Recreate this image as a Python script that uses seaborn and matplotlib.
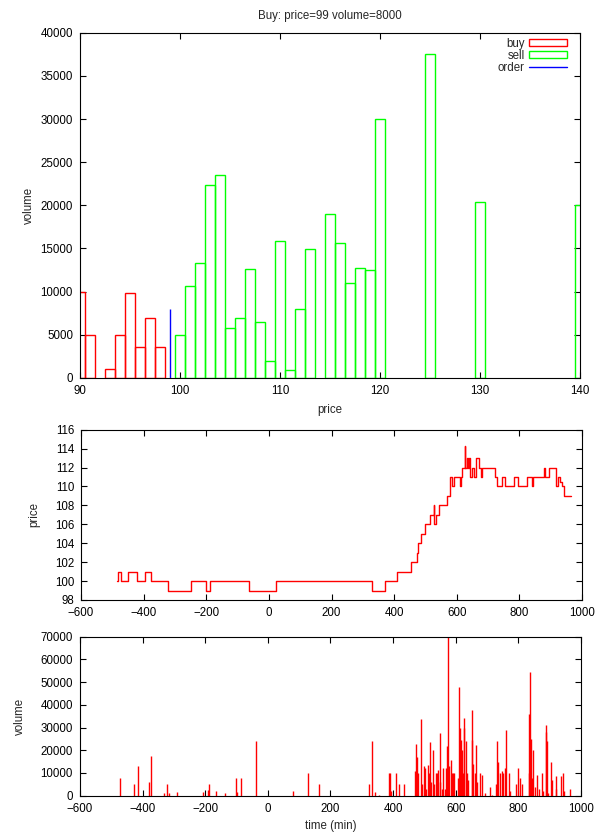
import matplotlib
matplotlib.use("Agg")
import matplotlib.pyplot as plt
from matplotlib.patches import Patch
from matplotlib.lines import Line2D
import seaborn as sns

# order book snapshot
buy_price = [90, 91, 93, 94, 95, 96, 97, 98]
buy_volume = [10000, 5000, 1000, 5000, 9900, 3600, 6900, 3600]
sell_price = [100, 101, 102, 103, 104, 105, 106, 107, 108, 109, 110, 111, 112, 113,
              115, 116, 117, 118, 119, 120, 125, 130, 140]
sell_volume = [5000, 10600, 13300, 22400, 23500, 5800, 7000, 12600, 6450, 2000, 15900,
               900, 8000, 14900, 19000, 15600, 11000, 12700, 12500, 30000, 37500, 20400, 20000]
order_price = 99
order_volume = 8000

# price history (minutes)
price_time = [-484, -483, -472, -449, -421, -396, -377, -322, -250, -200, -187, -62, 22,
              329, 371, 410, 453, 474, 477, 487, 498, 515, 526, 528, 533, 543, 570, 577,
              584, 590, 610, 613, 616, 625, 627, 632, 637, 640, 643, 648, 654, 660, 670,
              676, 681, 722, 728, 745, 753, 783, 797, 823, 839, 842, 880, 883, 896, 916,
              923, 931, 937, 942, 965]
price_level = [100, 101, 100, 101, 100, 101, 100, 99, 100, 99, 100, 99, 100,
               99, 100, 101, 102, 103, 104, 105, 106, 107, 108, 106, 107, 108, 109, 111,
               110, 111, 110, 111, 112, 114.3, 112, 113, 112, 113, 111, 112, 111, 113, 112,
               111, 112, 111, 110, 111, 110, 111, 110, 111, 110, 111, 112, 111, 112, 110,
               111, 110.5, 110, 109, 109]

# traded volume (minutes)
trade_time = [-472, -426, -416, -379, -374, -332, -323, -315, -291, -208, -190, -187,
              -167, -136, -102, -97, -87, -37, 79, 129, 162,
              322, 333, 343, 354, 386, 389, 392, 410, 419, 434,
              470, 474, 477, 479, 490, 493, 498, 502, 506, 511, 515, 518, 522, 527, 531,
              536, 540, 543, 549, 551, 556, 560, 565, 570, 573, 576, 580, 584, 588, 591,
              596, 607, 610, 614, 617, 620, 623, 626, 628, 632, 635, 638, 651, 653, 656,
              663, 666, 669, 678, 685, 692, 711, 717, 730, 733, 736, 742, 749, 752, 756,
              759, 770, 774, 793, 800, 806, 812, 833, 835, 837, 840, 844, 846, 852, 859,
              866, 875, 879, 887, 889, 892, 896, 905, 908, 919, 921, 936, 942, 945, 965]
trade_volume = [8000, 5000, 13000, 6000, 17500, 1000, 5000, 1000, 1500, 1500, 2500, 5000,
                2000, 1000, 8000, 1500, 8000, 24000, 2000, 10000, 5000,
                5000, 24000, 1500, 500, 10000, 10000, 2000, 10000, 5000, 5000,
                11000, 22600, 17000, 10000, 33800, 5000, 12900, 12000, 3000, 13500, 10000,
                23500, 6000, 20000, 5000, 10000, 10000, 11500, 6000, 27700, 3000, 12000,
                3000, 12000, 22000, 70000, 13000, 15600, 10000, 10000, 10000, 8000, 47800,
                30000, 24500, 20000, 10000, 30000, 34000, 24000, 10000, 7000, 24600, 37600,
                14000, 10000, 22300, 6000, 10000, 9000, 1000, 4000, 500, 5000, 24000, 14700,
                10000, 11000, 10000, 12000, 29000, 10000, 2000, 5000, 12000, 8000, 5000,
                36000, 10000, 54400, 25000, 8000, 20000, 4000, 9000, 3000, 10000, 2000,
                31000, 28000, 24000, 1000, 15000, 7000, 8500, 3000, 8500, 10000, 2000, 3000]

FS = 8.3

sns.set_style("ticks")
plt.rcParams["font.family"] = ["Liberation Sans", "DejaVu Sans"]
plt.rcParams.update({
    "font.size": FS,
    "axes.linewidth": 0.8,
    "axes.edgecolor": "black",
    "xtick.color": "black",
    "ytick.color": "black",
})


def frame(ax):
    ax.tick_params(direction="in", top=True, right=True, length=4, width=0.8,
                   labelsize=FS, pad=5)


fig = plt.figure(figsize=(6, 8.34), dpi=100)

# top: order book
ax1 = fig.add_axes([0.1333, 0.5468, 0.8333, 0.4140])
ax1.bar(buy_price, buy_volume, width=1, fill=False, edgecolor="#ff0000", lw=1)
ax1.bar(sell_price, sell_volume, width=1, fill=False, edgecolor="#00ff00", lw=1)
ax1.vlines(order_price, 0, order_volume, color="#0000ff", lw=1)
ax1.set_xlim(90, 140)
ax1.set_ylim(0, 40000)
ax1.set_xticks(range(90, 141, 10))
ax1.set_yticks(range(0, 40001, 5000))
frame(ax1)
ax1.set_title("Buy: price=%d volume=%d" % (order_price, order_volume), fontsize=FS, pad=9.5)
ax1.set_xlabel("price", fontsize=FS)
ax1.set_ylabel("volume", fontsize=FS)
ax1.xaxis.set_label_coords(0.5, -0.075)
ax1.yaxis.set_label_coords(-0.09, 0.5)
handles = [Patch(facecolor="none", edgecolor="#ff0000", lw=1, label="buy"),
           Patch(facecolor="none", edgecolor="#00ff00", lw=1, label="sell"),
           Line2D([], [], color="#0000ff", lw=1, label="order")]
ax1.legend(handles=handles, loc="upper right", bbox_to_anchor=(0.974, 0.986),
           frameon=False, markerfirst=False, fontsize=FS, handlelength=3.3,
           handleheight=0.55, labelspacing=0.0, borderpad=0, borderaxespad=0,
           handletextpad=0.35)

# middle: price history
ax2 = fig.add_axes([0.135, 0.2806, 0.835, 0.2042])
sns.lineplot(x=price_time, y=price_level, drawstyle="steps-post", color="#ff0000",
             lw=1, estimator=None, sort=False, legend=False, ax=ax2)
ax2.set_xlim(-600, 1000)
ax2.set_ylim(98, 116)
ax2.set_xticks(range(-600, 1001, 200))
ax2.set_yticks(range(98, 117, 2))
frame(ax2)
ax2.set_xlabel("")
ax2.set_ylabel("price", fontsize=FS)
ax2.yaxis.set_label_coords(-0.082, 0.5)

# bottom: traded volume
ax3 = fig.add_axes([0.1333, 0.0459, 0.8350, 0.1907])
ax3.vlines(trade_time, 0, trade_volume, color="#ff0000", lw=1)
ax3.set_xlim(-600, 1000)
ax3.set_ylim(0, 70000)
ax3.set_xticks(range(-600, 1001, 200))
ax3.set_yticks(range(0, 70001, 10000))
frame(ax3)
ax3.set_xlabel("time (min)", fontsize=FS)
ax3.set_ylabel("volume", fontsize=FS)
ax3.xaxis.set_label_coords(0.5, -0.15)
ax3.yaxis.set_label_coords(-0.108, 0.5)

fig.savefig("out.png", dpi=100)
